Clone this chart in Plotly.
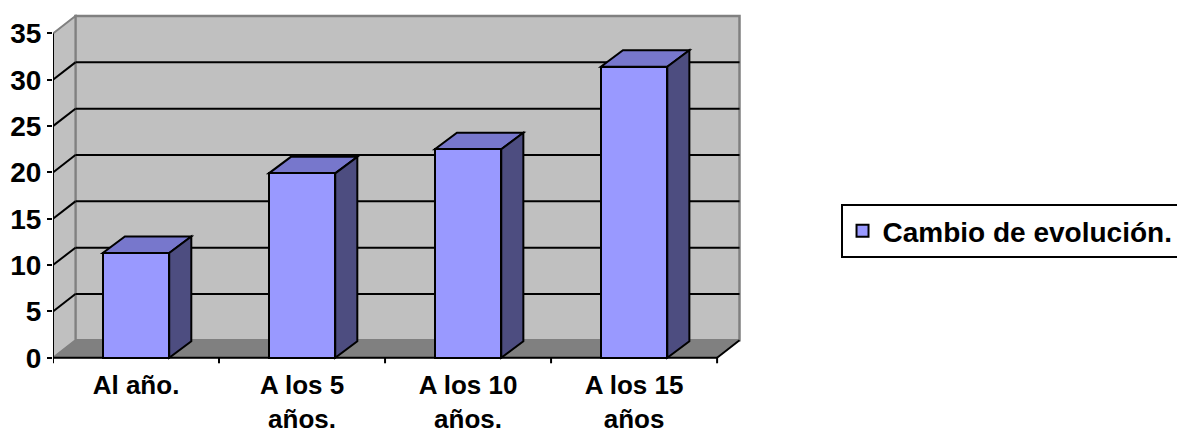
import plotly.graph_objects as go

# Data
categories = ["Al año.", "A los 5<br>años.", "A los 10<br>años.", "A los 15<br>años"]
values = [11.3, 19.9, 22.5, 31.4]
series_name = "Cambio de evolución."
y_ticks = [0, 5, 10, 15, 20, 25, 30, 35]

# 3D look: depth offsets (in axis units) for the walls and the columns
WALL_DX, WALL_DY = 0.135, 1.88
BAR_DX, BAR_DY = 0.133, 1.78
BAR_W = 0.4
X0, X1 = -0.5, len(categories) - 0.5
YMAX = 35

FRONT = "#9999FF"
TOP = "#7777CC"
SIDE = "#4D4D80"
WALL = "#C0C0C0"
FLOOR = "#808080"
EDGE = "#808080"

shapes = []


def poly(pts, fill, line_color, width=2):
    d = "M " + " L ".join(f"{x},{y}" for x, y in pts) + " Z"
    return dict(type="path", path=d, xref="x", yref="y", fillcolor=fill,
                line=dict(color=line_color, width=width), layer="below")


def seg(x0, y0, x1, y1, color, width=2):
    return dict(type="line", x0=x0, y0=y0, x1=x1, y1=y1, xref="x", yref="y",
                line=dict(color=color, width=width), layer="below")


# back wall
shapes.append(poly([(X0 + WALL_DX, WALL_DY), (X1 + WALL_DX, WALL_DY),
                    (X1 + WALL_DX, YMAX + WALL_DY), (X0 + WALL_DX, YMAX + WALL_DY)],
                   WALL, EDGE, 2.5))
# side wall
shapes.append(poly([(X0, 0), (X0, YMAX), (X0 + WALL_DX, YMAX + WALL_DY), (X0 + WALL_DX, WALL_DY)],
                   WALL, EDGE, 2))
# floor
shapes.append(poly([(X0, 0), (X1, 0), (X1 + WALL_DX, WALL_DY), (X0 + WALL_DX, WALL_DY)],
                   FLOOR, EDGE, 1))

# gridlines on the walls
for v in y_ticks[1:-1]:
    shapes.append(seg(X0 + WALL_DX, v + WALL_DY, X1 + WALL_DX, v + WALL_DY, "black", 2))
    shapes.append(seg(X0, v, X0 + WALL_DX, v + WALL_DY, "black", 2))

# front floor edge, right floor edge, value axis line
shapes.append(seg(X0, 0, X1, 0, "black", 2))
shapes.append(seg(X1, 0, X1 + WALL_DX, WALL_DY, "black", 2))
shapes.append(seg(X0, 0, X0, YMAX, "black", 2))
# category axis tick marks
for k in range(len(categories) + 1):
    xk = X0 + k
    shapes.append(seg(xk, 0, xk, -0.6, "black", 2))

# top and side faces of each column
for i, v in enumerate(values):
    l, r = i - BAR_W / 2, i + BAR_W / 2
    shapes.append(poly([(l, v), (r, v), (r + BAR_DX, v + BAR_DY), (l + BAR_DX, v + BAR_DY)],
                       TOP, "black", 2))
    shapes.append(poly([(r, 0), (r, v), (r + BAR_DX, v + BAR_DY), (r + BAR_DX, BAR_DY)],
                       SIDE, "black", 2))

fig = go.Figure()
fig.add_trace(go.Bar(
    x=list(range(len(categories))), y=values, width=BAR_W, name=series_name,
    marker=dict(color=FRONT, line=dict(color="black", width=2)),
    showlegend=True,
))

font_family = "Liberation Sans, Arial, sans-serif"
fig.update_layout(
    width=1177, height=434,
    margin=dict(l=53, r=435, t=14, b=67, autoexpand=False),
    paper_bgcolor="white", plot_bgcolor="white",
    shapes=shapes,
    showlegend=True,
    legend=dict(x=1.143, y=0.385, xanchor="left", yanchor="middle",
                bgcolor="white", bordercolor="black", borderwidth=2,
                font=dict(family=font_family, size=28, color="black", weight="bold")),
    xaxis=dict(range=[X0, X1 + WALL_DX + 0.015], tickvals=list(range(len(categories))),
               ticktext=categories, ticks="", showgrid=False, zeroline=False,
               showline=False, fixedrange=True, automargin=False,
               tickfont=dict(family=font_family, size=26, color="black", weight="bold")),
    yaxis=dict(range=[-1.0, 37.1], tickvals=y_ticks, ticks="outside", ticklen=5,
               tickwidth=2, tickcolor="black", showgrid=False, zeroline=False,
               showline=False, fixedrange=True, automargin=False,
               tickfont=dict(family=font_family, size=28, color="black", weight="bold")),
    bargap=0,
)

fig.write_html("out.html")
